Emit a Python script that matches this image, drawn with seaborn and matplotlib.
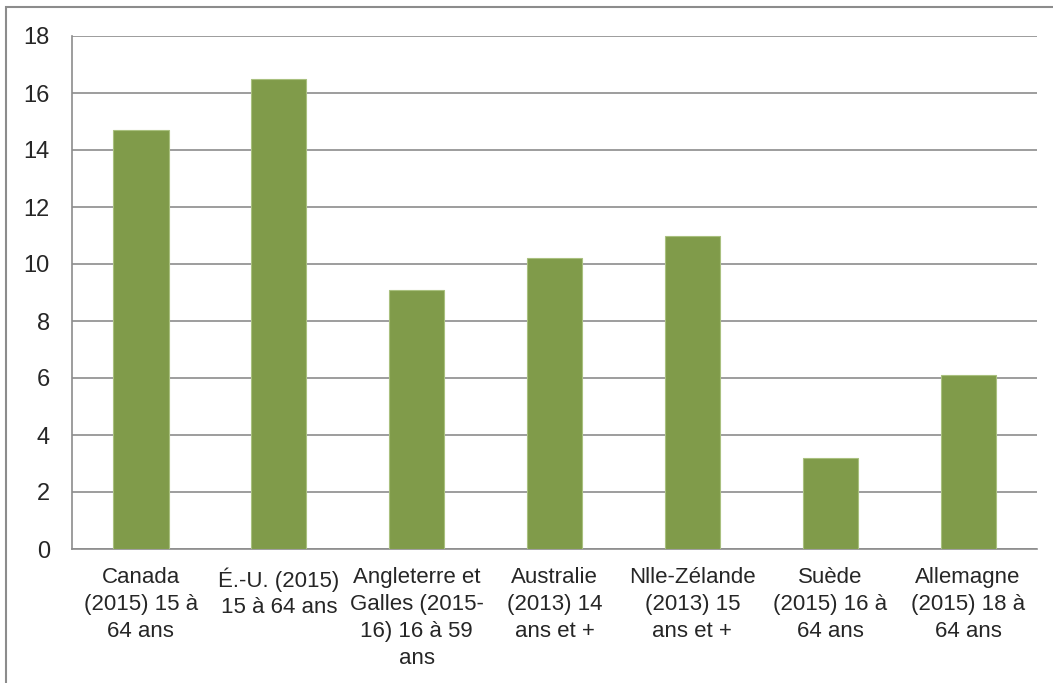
import matplotlib
matplotlib.use("Agg")
import matplotlib.pyplot as plt
import seaborn as sns
from matplotlib.patches import Rectangle

# Chart data
categories = [
    "Canada\n(2015) 15 à\n64 ans",
    "É.-U. (2015)\n15 à 64 ans",
    "Angleterre et\nGalles (2015-\n16) 16 à 59\nans",
    "Australie\n(2013) 14\nans et +",
    "Nlle-Zélande\n(2013) 15\nans et +",
    "Suède\n(2015) 16 à\n64 ans",
    "Allemagne\n(2015) 18 à\n64 ans",
]
values = [14.7, 16.5, 9.1, 10.2, 11.0, 3.2, 6.1]
y_ticks = [0, 2, 4, 6, 8, 10, 12, 14, 16, 18]

sns.set_style("white")
plt.rcParams['font.family'] = ['Liberation Sans', 'DejaVu Sans']

W, H = 1053, 683
fig = plt.figure(figsize=(W / 100, H / 100), dpi=100)
ax = fig.add_axes([72 / W, 1 - 549 / H, (1037 - 72) / W, (549 - 36) / H])

sns.barplot(x=list(range(len(values))), y=values, color="#809B4A", width=0.4,
            edgecolor="#A9C07F", linewidth=0.8, saturation=1, ax=ax, zorder=3)

ax.set_ylim(0, 18)
ax.set_xlim(-0.5, len(values) - 0.5)
ax.set_yticks(y_ticks)
ax.set_yticklabels([str(t) for t in y_ticks], fontsize=17)
ax.yaxis.grid(True, color="#8C8C8C", linewidth=1.2, zorder=0)
ax.set_axisbelow(True)

ax.set_xticks(range(len(values)))
ax.set_xticklabels(categories, fontsize=16, linespacing=1.37, va='top')
ax.tick_params(axis='x', length=0, pad=13)
ax.set_xticks([i - 0.5 for i in range(len(values) + 1)], minor=True)
ax.tick_params(axis='x', which='minor', length=6, color="#8C8C8C", width=1.2, direction='out')
ax.tick_params(axis='y', length=6, color="#8C8C8C", width=1.2, direction='out', pad=10)

for side in ['top', 'right']:
    ax.spines[side].set_visible(False)
for side in ['left', 'bottom']:
    ax.spines[side].set_color("#8C8C8C")
    ax.spines[side].set_linewidth(1.2)

ax.set_xlabel("")
ax.set_ylabel("")

# outer border of the chart frame
fig.patches.append(Rectangle((6 / W, -0.1), 1.2, 1 - 7 / H + 0.1, transform=fig.transFigure,
                             fill=False, edgecolor="#8C8C8C", linewidth=1.5))

fig.savefig("out.png", dpi=100)
